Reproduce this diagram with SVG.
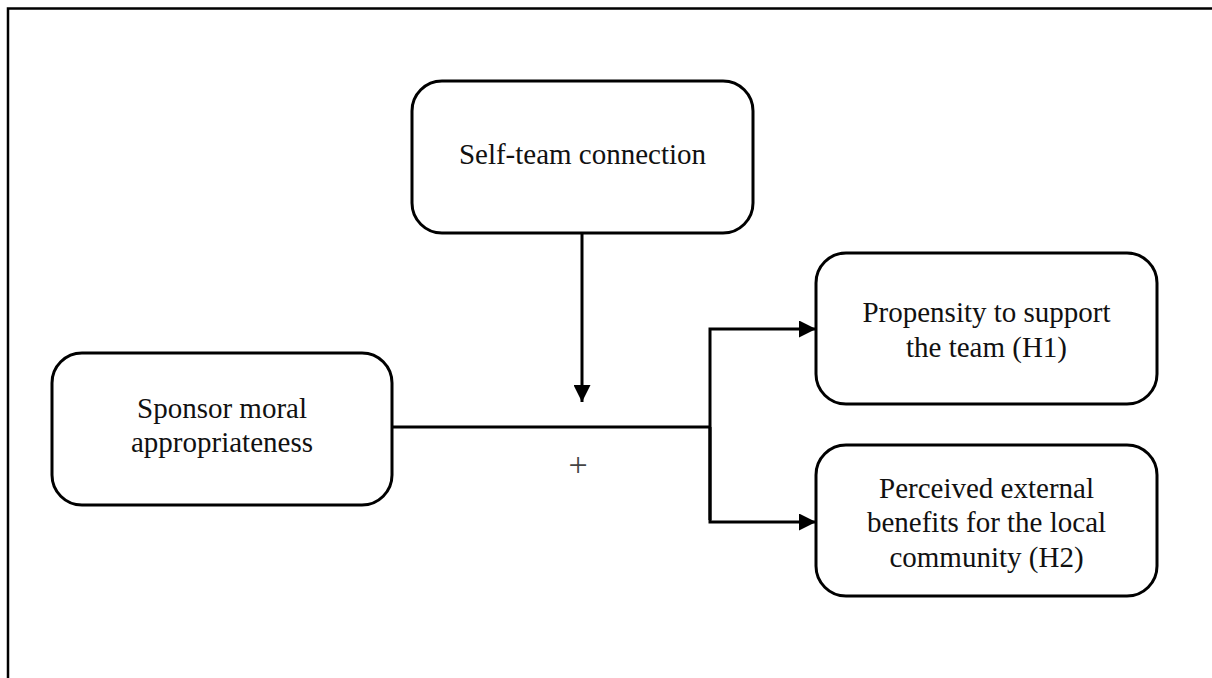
<svg xmlns="http://www.w3.org/2000/svg" width="1212" height="678" viewBox="0 0 1212 678">
<style>
.box{fill:#fff;stroke:#000;stroke-width:3}
.lbl{font-family:"Liberation Serif","Times New Roman",serif;font-size:29px;fill:#111;text-anchor:middle}
.con{fill:none;stroke:#000;stroke-width:3}
</style>
<defs>
<marker id="ah" markerUnits="userSpaceOnUse" markerWidth="17" markerHeight="17" refX="17" refY="8.5" orient="auto">
<path d="M0,0 L17,8.5 L0,17 Z" fill="#000"/>
</marker>
</defs>
<rect width="1212" height="678" fill="#fff"/>
<path d="M8,678 L8,8.5 L1212,8.5" fill="none" stroke="#000" stroke-width="2.5"/>
<g id="self-team">
<rect class="box" x="412" y="81" width="341" height="152" rx="30"/>
<text class="lbl" x="582.5" y="164">Self-team connection</text>
</g>
<g id="sponsor">
<rect class="box" x="52" y="353" width="340" height="152" rx="30"/>
<text class="lbl" x="222" y="418">Sponsor moral</text>
<text class="lbl" x="222" y="452">appropriateness</text>
</g>
<g id="propensity">
<rect class="box" x="816" y="253" width="341" height="151" rx="30"/>
<text class="lbl" x="986.5" y="322">Propensity to support</text>
<text class="lbl" x="986.5" y="357">the team (H1)</text>
</g>
<g id="perceived">
<rect class="box" x="816" y="445" width="341" height="151" rx="30"/>
<text class="lbl" x="986.5" y="498">Perceived external</text>
<text class="lbl" x="986.5" y="532">benefits for the local</text>
<text class="lbl" x="986.5" y="567">community (H2)</text>
</g>
<g id="connectors">
<path class="con" d="M393,427 L710,427"/>
<path class="con" d="M710,520 L710,329 L816,329" marker-end="url(#ah)"/>
<path class="con" d="M710,427 L710,522 L816,522" marker-end="url(#ah)"/>
<path class="con" d="M582,233 L582,402" marker-end="url(#ah)"/>
<text x="578" y="476" style="font-family:'Liberation Serif','Times New Roman',serif;font-size:34px;fill:#444;text-anchor:middle">+</text>
</g>
</svg>
